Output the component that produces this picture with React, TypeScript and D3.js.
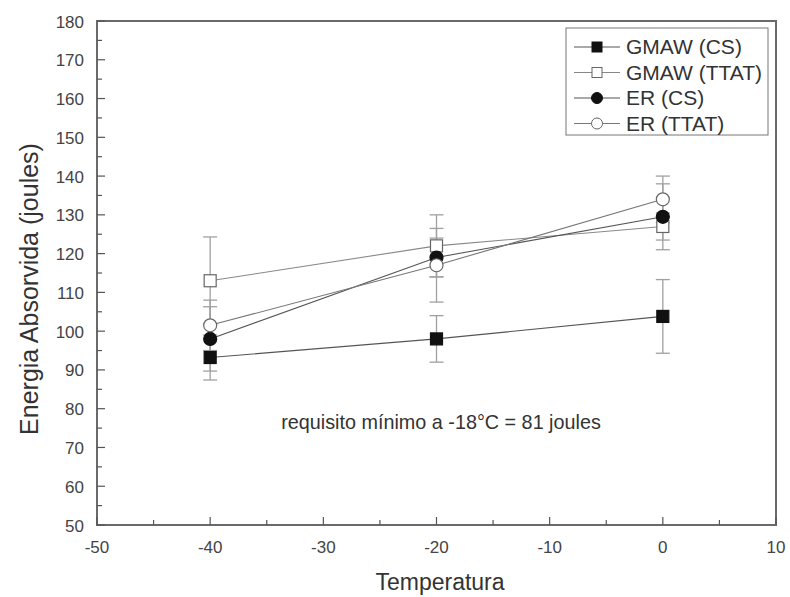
import React from "react";
import * as d3 from "d3";

const temps = [-40, -20, 0];
const seriesNames = ["GMAW (CS)", "GMAW (TTAT)", "ER (CS)", "ER (TTAT)"];
const gmawCS = [93.2, 98, 103.8];
const gmawCSErr = [5.8, 6, 9.5];
const gmawTTAT = [113, 122, 127];
const gmawTTATErr = [11.3, 8, 3.5];
const erCS = [98, 119, 129.5];
const erCSErr = [8.3, 5, 8.5];
const erTTAT = [101.5, 117, 134];
const erTTATErr = [6.5, 9.5, 6];
const xTicks = [-50, -40, -30, -20, -10, 0, 10];
const yTicks = [50, 60, 70, 80, 90, 100, 110, 120, 130, 140, 150, 160, 170, 180];
const annotation = "requisito mínimo a -18°C = 81 joules";

const W = 790, H = 597;
const L = 97, R = 776, T = 21, B = 525;

export default function App() {
  const x = d3.scaleLinear().domain([-50, 10]).range([L, R]);
  const y = d3.scaleLinear().domain([50, 180]).range([B, T]);
  const font = "Liberation Sans, Arial, sans-serif";
  const series = [
    { name: seriesNames[0], v: gmawCS, e: gmawCSErr, shape: "square", fill: "#111", line: "#555" },
    { name: seriesNames[1], v: gmawTTAT, e: gmawTTATErr, shape: "square", fill: "#fff", line: "#888" },
    { name: seriesNames[2], v: erCS, e: erCSErr, shape: "circle", fill: "#111", line: "#555" },
    { name: seriesNames[3], v: erTTAT, e: erTTATErr, shape: "circle", fill: "#fff", line: "#777" },
  ];
  const line = d3.line<number>().x((_, i) => x(temps[i])).y((d) => y(d));
  const marker = (s: any, cx: number, cy: number, key: string) =>
    s.shape === "square" ? (
      <rect key={key} x={cx - 6} y={cy - 6} width={12} height={12} fill={s.fill} stroke={s.fill === "#fff" ? "#666" : "#111"} strokeWidth={1.2} />
    ) : (
      <circle key={key} cx={cx} cy={cy} r={6.5} fill={s.fill} stroke={s.fill === "#fff" ? "#666" : "#111"} strokeWidth={1.2} />
    );
  const minorX = d3.range(-45, 10, 10);
  const minorY = d3.range(55, 180, 10);
  return (
    <svg width={W} height={H} style={{ position: "absolute", left: 0, top: 0, background: "#fff" }}>
      {series.map((s, si) =>
        s.v.map((v, i) => {
          const cx = x(temps[i]);
          const y1 = y(v + s.e[i]);
          const y2 = y(v - s.e[i]);
          return (
            <g key={`e${si}-${i}`} stroke="#a0a0a0" strokeWidth={1.3}>
              <line x1={cx} x2={cx} y1={y1} y2={y2} />
              <line x1={cx - 7} x2={cx + 7} y1={y1} y2={y1} />
              <line x1={cx - 7} x2={cx + 7} y1={y2} y2={y2} />
            </g>
          );
        })
      )}
      {series.map((s, si) => (
        <path key={`l${si}`} d={line(s.v) || ""} fill="none" stroke={s.line} strokeWidth={1.1} />
      ))}
      {series.map((s, si) => s.v.map((v, i) => marker(s, x(temps[i]), y(v), `m${si}-${i}`)))}
      <rect x={L} y={T} width={R - L} height={B - T} fill="none" stroke="#6a6a6a" strokeWidth={2} />
      {xTicks.map((t) => (
        <g key={`xt${t}`}>
          <line x1={x(t)} x2={x(t)} y1={B} y2={B - 8} stroke="#555" strokeWidth={1.2} />
          <text x={x(t)} y={B + 28} textAnchor="middle" fontSize={17} fill="#444" fontFamily={font}>{t}</text>
        </g>
      ))}
      {minorX.map((t) => (
        <line key={`xm${t}`} x1={x(t)} x2={x(t)} y1={B} y2={B - 5} stroke="#555" strokeWidth={1.2} />
      ))}
      {yTicks.map((t) => (
        <g key={`yt${t}`}>
          <line x1={L} x2={L + 8} y1={y(t)} y2={y(t)} stroke="#555" strokeWidth={1.2} />
          <text x={L - 13} y={y(t) + 6.5} textAnchor="end" fontSize={17} fill="#444" fontFamily={font}>{t}</text>
        </g>
      ))}
      {minorY.map((t) => (
        <line key={`ym${t}`} x1={L} x2={L + 5} y1={y(t)} y2={y(t)} stroke="#555" strokeWidth={1.2} />
      ))}
      <text x={440} y={590} textAnchor="middle" fontSize={23} fill="#333" fontFamily={font}>Temperatura</text>
      <text transform={`translate(38, 289) rotate(-90)`} textAnchor="middle" fontSize={25} fill="#333" fontFamily={font}>Energia Absorvida (joules)</text>
      <text x={441} y={429} textAnchor="middle" fontSize={19.8} fill="#333" fontFamily={font}>{annotation}</text>
      <rect x={566} y={28} width={202} height={107} fill="#fff" stroke="#777" strokeWidth={1} />
      {series.map((s, si) => {
        const ly = 47 + si * 25.5;
        return (
          <g key={`lg${si}`}>
            <line x1={574} x2={620} y1={ly} y2={ly} stroke={s.line} strokeWidth={1.1} />
            {s.shape === "square" ? (
              <rect x={592} y={ly - 5} width={10} height={10} fill={s.fill} stroke={s.fill === "#fff" ? "#666" : "#111"} strokeWidth={1} />
            ) : (
              <circle cx={597} cy={ly} r={5.5} fill={s.fill} stroke={s.fill === "#fff" ? "#666" : "#111"} strokeWidth={1} />
            )}
            <text x={626} y={ly + 7} fontSize={21} fill="#333" fontFamily={font}>{s.name}</text>
          </g>
        );
      })}
    </svg>
  );
}
